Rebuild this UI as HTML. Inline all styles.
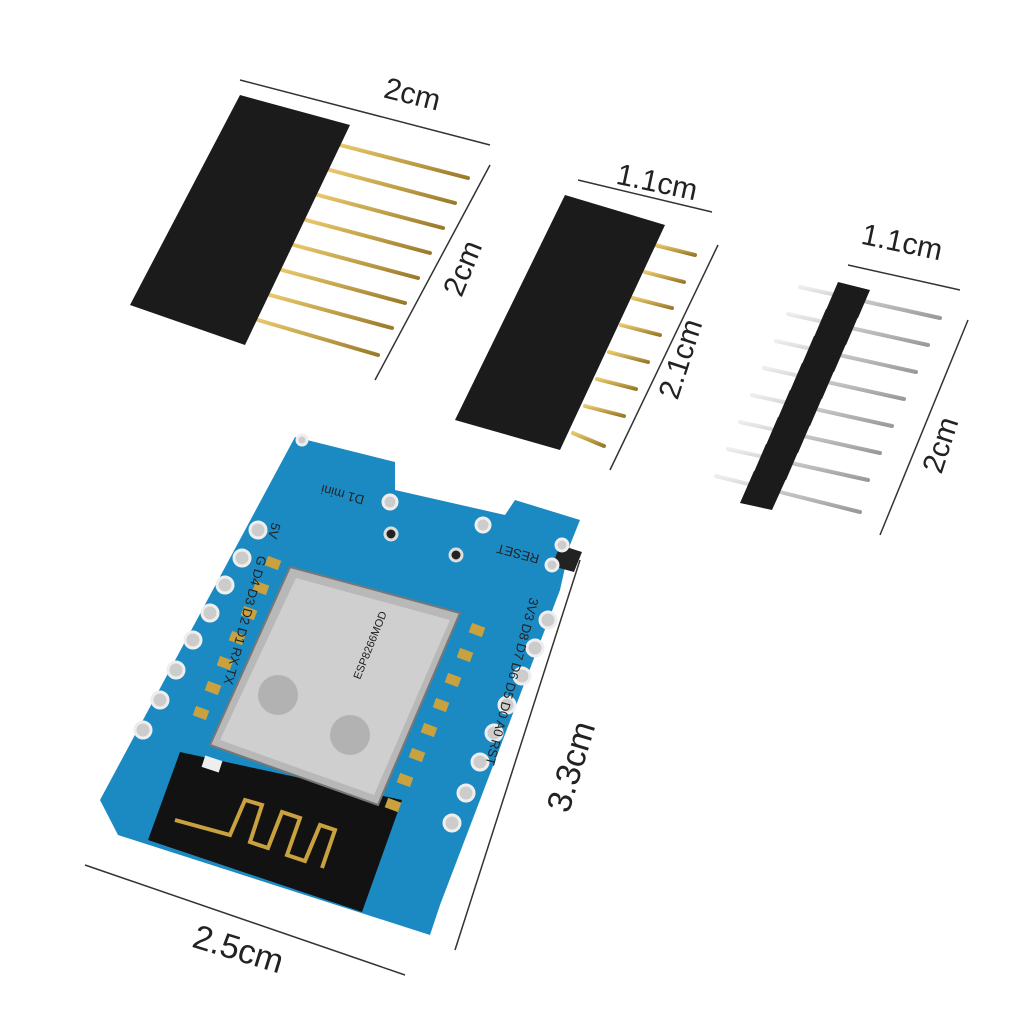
<!DOCTYPE html>
<html><head><meta charset="utf-8"><style>
html,body{margin:0;padding:0;background:#fff;}
svg{display:block}
text{font-family:"Liberation Sans",sans-serif;fill:#222}
</style></head><body>
<svg width="1024" height="1024" viewBox="0 0 1024 1024" xmlns="http://www.w3.org/2000/svg">
<rect width="1024" height="1024" fill="#fff"/>
<defs>
<linearGradient id="gold" x1="0" y1="0" x2="0" y2="1"><stop offset="0" stop-color="#e8c86a"/><stop offset="1" stop-color="#9a7a2a"/></linearGradient>
<linearGradient id="silv" x1="0" y1="0" x2="0" y2="1"><stop offset="0" stop-color="#eee"/><stop offset="1" stop-color="#999"/></linearGradient>
</defs>

<!-- Header 1 -->
<g stroke="url(#gold)" stroke-width="4" stroke-linecap="round">
<line x1="340" y1="145" x2="468" y2="178"/>
<line x1="330" y1="170" x2="455" y2="203"/>
<line x1="318" y1="195" x2="443" y2="228"/>
<line x1="306" y1="220" x2="430" y2="253"/>
<line x1="294" y1="245" x2="418" y2="278"/>
<line x1="282" y1="270" x2="405" y2="303"/>
<line x1="270" y1="295" x2="392" y2="328"/>
<line x1="258" y1="320" x2="378" y2="355"/>
</g>
<polygon points="240,95 350,125 245,345 130,305" fill="#1b1b1b"/>
<line x1="240" y1="80" x2="490" y2="145" stroke="#333" stroke-width="1.5"/>
<line x1="490" y1="165" x2="375" y2="380" stroke="#333" stroke-width="1.5"/>
<text x="410" y="104" font-size="30" transform="rotate(14 410 104)" text-anchor="middle">2cm</text>
<text x="472" y="272" font-size="30" transform="rotate(-68 472 272)" text-anchor="middle">2cm</text>

<!-- Header 2 -->
<g stroke="url(#gold)" stroke-width="4" stroke-linecap="round">
<line x1="655" y1="245" x2="695" y2="255"/>
<line x1="645" y1="272" x2="684" y2="282"/>
<line x1="633" y1="298" x2="672" y2="308"/>
<line x1="621" y1="325" x2="660" y2="335"/>
<line x1="609" y1="352" x2="648" y2="362"/>
<line x1="597" y1="379" x2="636" y2="389"/>
<line x1="585" y1="406" x2="624" y2="416"/>
<line x1="573" y1="433" x2="604" y2="446"/>
</g>
<polygon points="565,195 665,225 560,450 455,420" fill="#1b1b1b"/>
<line x1="578" y1="180" x2="712" y2="212" stroke="#333" stroke-width="1.5"/>
<line x1="718" y1="245" x2="610" y2="470" stroke="#333" stroke-width="1.5"/>
<text x="655" y="192" font-size="30" transform="rotate(12 655 192)" text-anchor="middle">1.1cm</text>
<text x="690" y="362" font-size="30" transform="rotate(-72 690 362)" text-anchor="middle">2.1cm</text>

<!-- Header 3 male -->
<g stroke="url(#silv)" stroke-width="4" stroke-linecap="round">
<line x1="800" y1="287" x2="940" y2="318"/>
<line x1="788" y1="314" x2="928" y2="345"/>
<line x1="776" y1="341" x2="916" y2="372"/>
<line x1="764" y1="368" x2="904" y2="399"/>
<line x1="752" y1="395" x2="892" y2="426"/>
<line x1="740" y1="422" x2="880" y2="453"/>
<line x1="728" y1="449" x2="868" y2="480"/>
<line x1="716" y1="476" x2="860" y2="512"/>
</g>
<g fill="#1b1b1b">
<polygon points="838,282 870,290 858,318 826,310"/>
<polygon points="826,309 858,317 846,345 814,337"/>
<polygon points="814,336 846,344 834,372 802,364"/>
<polygon points="802,363 834,371 822,399 790,391"/>
<polygon points="790,390 822,398 810,426 778,418"/>
<polygon points="778,417 810,425 798,453 766,445"/>
<polygon points="766,444 798,452 786,480 754,472"/>
<polygon points="754,471 786,479 772,510 740,503"/>
</g>
<line x1="848" y1="265" x2="960" y2="290" stroke="#333" stroke-width="1.5"/>
<line x1="968" y1="320" x2="880" y2="535" stroke="#333" stroke-width="1.5"/>
<text x="900" y="252" font-size="30" transform="rotate(12 900 252)" text-anchor="middle">1.1cm</text>
<text x="950" y="448" font-size="30" transform="rotate(-72 950 448)" text-anchor="middle">2cm</text>

<!-- PCB -->
<polygon points="295,437 395,462 395,490 505,515 515,500 580,520 570,545 560,590 440,905 430,935 118,835 100,800" fill="#1c8ac2"/>
<polygon points="560,545 582,552 574,572 552,566" fill="#222"/>
<polygon points="180,752 402,800 362,912 148,840" fill="#121212"/>
<path d="M175,820 L230,835 L245,800 L262,805 L250,842 L268,848 L282,812 L300,818 L287,855 L305,861 L320,825 L335,830 L322,868" stroke="#c9a23f" stroke-width="4" fill="none"/>
<g fill="#c9a23f">
<rect x="266" y="558" width="14" height="10" transform="rotate(20 273 563)"/>
<rect x="254" y="583" width="14" height="10" transform="rotate(20 261 588)"/>
<rect x="242" y="608" width="14" height="10" transform="rotate(20 249 613)"/>
<rect x="230" y="633" width="14" height="10" transform="rotate(20 237 638)"/>
<rect x="218" y="658" width="14" height="10" transform="rotate(20 225 663)"/>
<rect x="206" y="683" width="14" height="10" transform="rotate(20 213 688)"/>
<rect x="194" y="708" width="14" height="10" transform="rotate(20 201 713)"/>
<rect x="470" y="625" width="14" height="10" transform="rotate(20 477 630)"/>
<rect x="458" y="650" width="14" height="10" transform="rotate(20 465 655)"/>
<rect x="446" y="675" width="14" height="10" transform="rotate(20 453 680)"/>
<rect x="434" y="700" width="14" height="10" transform="rotate(20 441 705)"/>
<rect x="422" y="725" width="14" height="10" transform="rotate(20 429 730)"/>
<rect x="410" y="750" width="14" height="10" transform="rotate(20 417 755)"/>
<rect x="398" y="775" width="14" height="10" transform="rotate(20 405 780)"/>
<rect x="386" y="800" width="14" height="10" transform="rotate(20 393 805)"/>
</g>
<polygon points="290,567 460,613 378,805 210,745" fill="#b8b8b8" stroke="#777" stroke-width="2"/>
<polygon points="296,578 450,620 374,795 220,740" fill="#cfcfcf"/>
<circle cx="278" cy="695" r="20" fill="#b2b2b2"/>
<circle cx="350" cy="735" r="20" fill="#b2b2b2"/>
<text x="360" y="680" font-size="11" transform="rotate(-68 360 680)" fill="#888">ESP8266MOD</text>
<g fill="#ccc" stroke="#eee" stroke-width="3">
<circle cx="258" cy="530" r="8"/><circle cx="242" cy="558" r="8"/><circle cx="225" cy="585" r="8"/>
<circle cx="210" cy="613" r="8"/><circle cx="193" cy="640" r="8"/><circle cx="176" cy="670" r="8"/>
<circle cx="160" cy="700" r="8"/><circle cx="143" cy="730" r="8"/>
<circle cx="548" cy="620" r="8"/><circle cx="535" cy="648" r="8"/><circle cx="522" cy="676" r="8"/>
<circle cx="507" cy="705" r="8"/><circle cx="494" cy="733" r="8"/><circle cx="480" cy="762" r="8"/>
<circle cx="466" cy="793" r="8"/><circle cx="452" cy="823" r="8"/>
<circle cx="390" cy="502" r="7"/><circle cx="483" cy="525" r="7"/>
<circle cx="562" cy="545" r="6"/><circle cx="552" cy="565" r="6"/>
<circle cx="302" cy="440" r="5"/>
</g>
<g fill="#222" stroke="#ddd" stroke-width="3"><circle cx="391" cy="534" r="6"/><circle cx="456" cy="555" r="6"/></g>
<g fill="#fff" font-size="13">
<text x="365" y="496" transform="rotate(195 365 496)">D1 mini</text>
<text x="540" y="555" transform="rotate(195 540 555)">RESET</text>
<text x="272" y="522" transform="rotate(105 272 522)">5V</text>
<text x="258" y="555" transform="rotate(105 258 555)">G D4 D3 D2 D1 RX TX</text>
<text x="530" y="597" transform="rotate(105 530 597)">3V3 D8 D7 D6 D5 D0 A0 RST</text>
</g>
<rect x="203" y="758" width="18" height="12" fill="#eee" transform="rotate(18 212 764)"/>

<line x1="580" y1="560" x2="455" y2="950" stroke="#333" stroke-width="1.5"/>
<line x1="85" y1="865" x2="405" y2="975" stroke="#333" stroke-width="1.5"/>
<text x="582" y="770" font-size="34" transform="rotate(-73 582 770)" text-anchor="middle">3.3cm</text>
<text x="235" y="960" font-size="34" transform="rotate(17 235 960)" text-anchor="middle">2.5cm</text>
</svg>
</body></html>
